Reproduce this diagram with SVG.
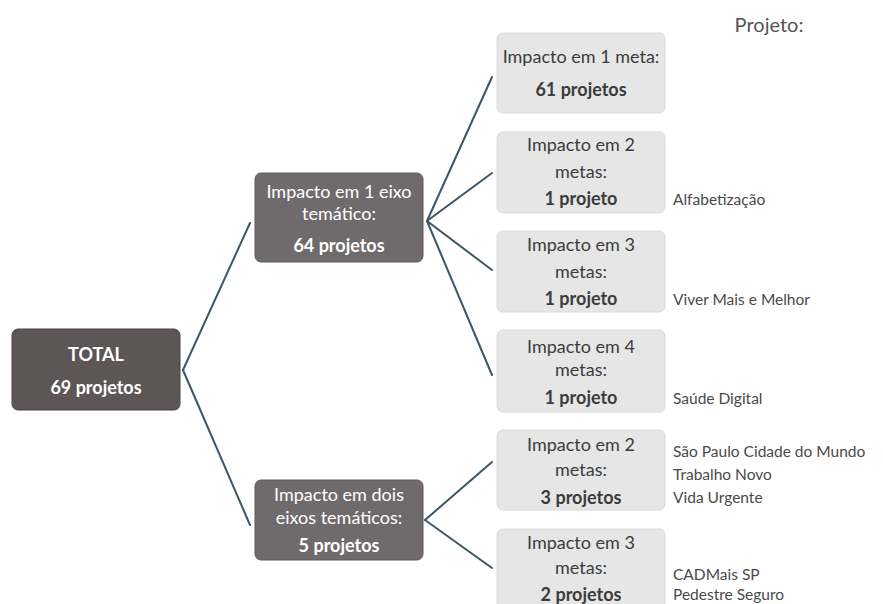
<svg xmlns="http://www.w3.org/2000/svg" width="883" height="604" viewBox="0 0 883 604">
<style>
.dark{fill:#5e5557;stroke:#4a4446;stroke-width:1}
.mid{fill:#6f6b6d;stroke:#5f5b5d;stroke-width:1}
.light{fill:#e6e6e6;stroke:#dadada;stroke-width:1}
text{font-family:Lato,"Open Sans","Liberation Sans",sans-serif;text-anchor:middle}
.w{fill:#ffffff;font-size:18px}
.wb{fill:#ffffff;font-size:18px;font-weight:bold}
.g{fill:#3c3c3c;font-size:18px}
.gb{fill:#3c3c3c;font-size:18px;font-weight:bold}
.lbl{fill:#4a4a4a;font-size:15.5px;text-anchor:start}
.conn line{stroke:#3d5666;stroke-width:2;stroke-linecap:round}
</style>
<rect width="883" height="604" fill="#ffffff"/>
<g class="conn" id="connectors">
<line x1="183" y1="370" x2="250" y2="223"/>
<line x1="183" y1="370" x2="250" y2="525"/>
<line x1="427" y1="221" x2="492" y2="77"/>
<line x1="427" y1="221" x2="492" y2="173"/>
<line x1="427" y1="221" x2="492" y2="270"/>
<line x1="427" y1="221" x2="492" y2="375"/>
<line x1="425" y1="520" x2="492" y2="462"/>
<line x1="425" y1="520" x2="492" y2="568"/>
</g>
<g id="total">
<rect class="dark" x="12" y="329" width="168" height="81" rx="6"/>
<text class="wb" x="96" y="361">TOTAL</text>
<text class="wb" x="96" y="394">69 projetos</text>
</g>
<g id="eixo1">
<rect class="mid" x="255" y="173" width="168" height="89" rx="6"/>
<text class="w" x="339" y="198">Impacto em 1 eixo</text>
<text class="w" x="339" y="220">temático:</text>
<text class="wb" x="339" y="252">64 projetos</text>
</g>
<g id="eixo2">
<rect class="mid" x="255" y="480" width="168" height="80" rx="6"/>
<text class="w" x="339" y="501">Impacto em dois</text>
<text class="w" x="339" y="524">eixos temáticos:</text>
<text class="wb" x="339" y="552">5 projetos</text>
</g>
<g id="meta1">
<rect class="light" x="497" y="33" width="168" height="80" rx="6"/>
<text class="g" x="581" y="63">Impacto em 1 meta:</text>
<text class="gb" x="581" y="96">61 projetos</text>
</g>
<g id="meta2">
<rect class="light" x="497" y="132" width="168" height="81" rx="6"/>
<text class="g" x="581" y="151">Impacto em 2</text>
<text class="g" x="581" y="178">metas:</text>
<text class="gb" x="581" y="205">1 projeto</text>
<text class="lbl" x="673" y="205">Alfabetização</text>
</g>
<g id="meta3">
<rect class="light" x="497" y="231" width="168" height="81" rx="6"/>
<text class="g" x="581" y="251">Impacto em 3</text>
<text class="g" x="581" y="278">metas:</text>
<text class="gb" x="581" y="305">1 projeto</text>
<text class="lbl" x="673" y="305">Viver Mais e Melhor</text>
</g>
<g id="meta4">
<rect class="light" x="497" y="330" width="168" height="82" rx="6"/>
<text class="g" x="581" y="353">Impacto em 4</text>
<text class="g" x="581" y="376">metas:</text>
<text class="gb" x="581" y="404">1 projeto</text>
<text class="lbl" x="673" y="404">Saúde Digital</text>
</g>
<g id="meta5">
<rect class="light" x="497" y="430" width="168" height="80" rx="6"/>
<text class="g" x="581" y="451">Impacto em 2</text>
<text class="g" x="581" y="476">metas:</text>
<text class="gb" x="581" y="504">3 projetos</text>
<text class="lbl" x="673" y="457">São Paulo Cidade do Mundo</text>
<text class="lbl" x="673" y="480">Trabalho Novo</text>
<text class="lbl" x="673" y="503">Vida Urgente</text>
</g>
<g id="meta6">
<rect class="light" x="497" y="529" width="168" height="85" rx="6"/>
<text class="g" x="581" y="549">Impacto em 3</text>
<text class="g" x="581" y="574">metas:</text>
<text class="gb" x="581" y="601">2 projetos</text>
<text class="lbl" x="673" y="580">CADMais SP</text>
<text class="lbl" x="673" y="600">Pedestre Seguro</text>
</g>
<g id="header">
<text x="769" y="32" style="font-size:20px;fill:#555">Projeto:</text>
</g>
</svg>
